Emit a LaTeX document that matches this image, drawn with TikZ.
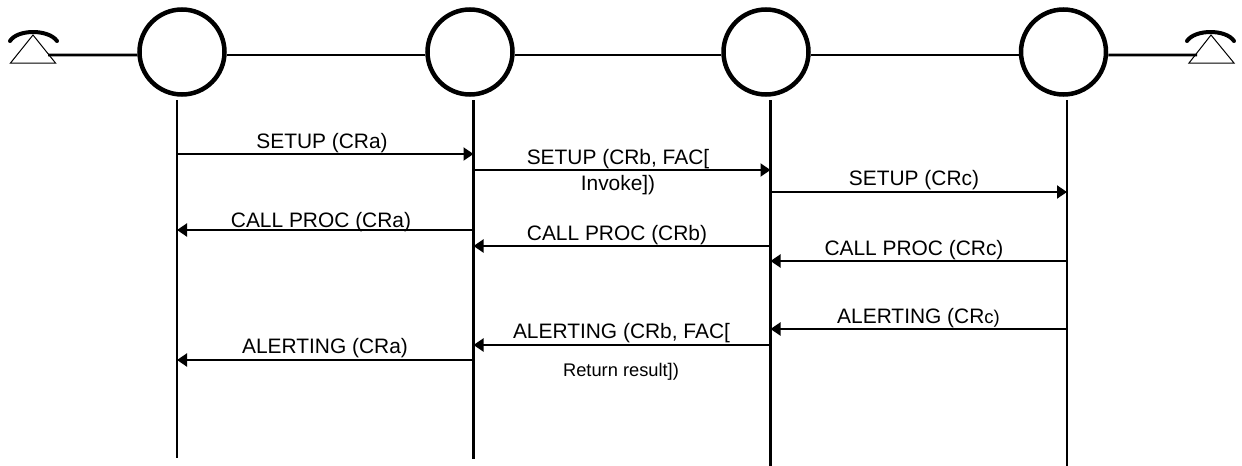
\documentclass[tikz,border=0pt]{standalone}
\usepackage{fontspec}
\setmainfont{Liberation Sans}
\usetikzlibrary{calc, arrows.meta}

\tikzset{
  switch/.style={draw, circle, line width=0.09cm, minimum size=1.7cm, inner sep=0pt},
  trunk/.style={line width=0.055cm},
  lifeline/.style={line width=0.05cm},
  msg/.style={line width=0.04cm, -{Triangle[length=0.2cm,width=0.26cm]}},
  handset/.style={line width=0.08cm, line cap=round},
  cradle/.style={line width=0.02cm},
  lbl/.style={font=\fontsize{11.9}{14}\selectfont, inner sep=0pt},
  smalllbl/.style={font=\fontsize{10.4}{12}\selectfont, inner sep=0pt}
}

\begin{document}
\begin{tikzpicture}
  \useasboundingbox (0,0) rectangle (24.84,-9.32);
  % exchanges
  \node[switch] (ca) at (3.64,-1.04) {};
  \node[switch] (cb) at (9.40,-1.04) {};
  \node[switch] (cc) at (15.32,-1.04) {};
  \node[switch] (cd) at (21.27,-1.04) {};
  % left telephone
  \coordinate (pla) at (0.66,-0.70);
  \coordinate (plb) at (0.21,-1.26);
  \coordinate (plc) at (1.11,-1.26);
  \coordinate (pld) at (0.96,-1.10);
  \draw[cradle] (pla) -- (plb) -- (plc) -- cycle;
  \draw[handset] (0.20,-0.82) .. controls (0.35,-0.58) and (0.97,-0.58) .. (1.14,-0.82);
  % right telephone
  \coordinate (pra) at (24.22,-0.70);
  \coordinate (prb) at (23.78,-1.26);
  \coordinate (prc) at (24.68,-1.26);
  \coordinate (prd) at (23.94,-1.10);
  \draw[cradle] (pra) -- (prb) -- (prc) -- cycle;
  \draw[handset] (23.74,-0.82) .. controls (23.90,-0.58) and (24.52,-0.58) .. (24.68,-0.82);
  % horizontal lines
  \draw[trunk] (pld) -- ([yshift=-0.06cm] ca.west);
  \draw[trunk] ([yshift=-0.06cm] ca.east) -- ([yshift=-0.06cm] cb.west);
  \draw[trunk] ([yshift=-0.06cm] cb.east) -- ([yshift=-0.06cm] cc.west);
  \draw[trunk] ([yshift=-0.06cm] cc.east) -- ([yshift=-0.06cm] cd.west);
  \draw[trunk] ([yshift=-0.06cm] cd.east) -- (prd);
  % vertical lines
  \coordinate (ta) at (3.54,-2.00);
  \coordinate (tb) at (9.47,-2.00);
  \coordinate (tc) at (15.41,-2.00);
  \coordinate (td) at (21.34,-2.00);
  \coordinate (ea) at (3.54,-9.16);
  \coordinate (eb) at (9.47,-9.18);
  \coordinate (ec) at (15.41,-9.32);
  \coordinate (ed) at (21.34,-9.32);
  \draw[lifeline] (ta) -- (ea);
  \draw[lifeline] (tb) -- (eb);
  \draw[lifeline] (tc) -- (ec);
  \draw[lifeline] (td) -- (ed);
  % messages, left to right
  \draw[msg] (3.54,-3.08) coordinate (s1) -- (9.47,-3.08) coordinate (s2);
  \draw[msg] (9.47,-3.40) coordinate (s3) -- (15.41,-3.40) coordinate (s4);
  \draw[msg] (15.41,-3.84) coordinate (s5) -- (21.34,-3.84) coordinate (s6);
  % messages, right to left
  \draw[msg] (9.47,-4.60) coordinate (p1) -- (3.54,-4.60) coordinate (p2);
  \draw[msg] (15.41,-4.92) coordinate (p3) -- (9.47,-4.92) coordinate (p4);
  \draw[msg] (21.34,-5.22) coordinate (p5) -- (15.41,-5.22) coordinate (p6);
  \draw[msg] (21.34,-6.58) coordinate (r1) -- (15.41,-6.58) coordinate (r2);
  \draw[msg] (15.41,-6.90) coordinate (r3) -- (9.47,-6.90) coordinate (r4);
  \draw[msg] (9.47,-7.20) coordinate (r5) -- (3.54,-7.20) coordinate (r6);
  % labels
  \node[lbl] (lsa) at (6.44,-2.86) {SETUP (CRa)};
  \node[lbl] (lsb) at (12.36,-3.18) {SETUP (CRb, FAC[};
  \node[lbl] (lsc) at (12.36,-3.70) {Invoke])};
  \node[lbl] (lsd) at (18.28,-3.60) {SETUP (CRc)};
  \node[lbl] (lpa) at (6.42,-4.44) {CALL PROC (CRa)};
  \node[lbl] (lpb) at (12.34,-4.70) {CALL PROC (CRb)};
  \node[lbl] (lpc) at (18.28,-5.00) {CALL PROC (CRc)};
  \node[lbl] (lra) at (18.37,-6.36) {ALERTING (CR{\fontsize{10.5}{12}\selectfont c)}};
  \node[lbl] (lrb) at (12.43,-6.66) {ALERTING (CRb, FAC[};
  \node[smalllbl] (lrc) at (12.42,-7.44) {Return result])};
  \node[lbl] (lrd) at (6.50,-6.96) {ALERTING (CRa)};
\end{tikzpicture}
\end{document}
